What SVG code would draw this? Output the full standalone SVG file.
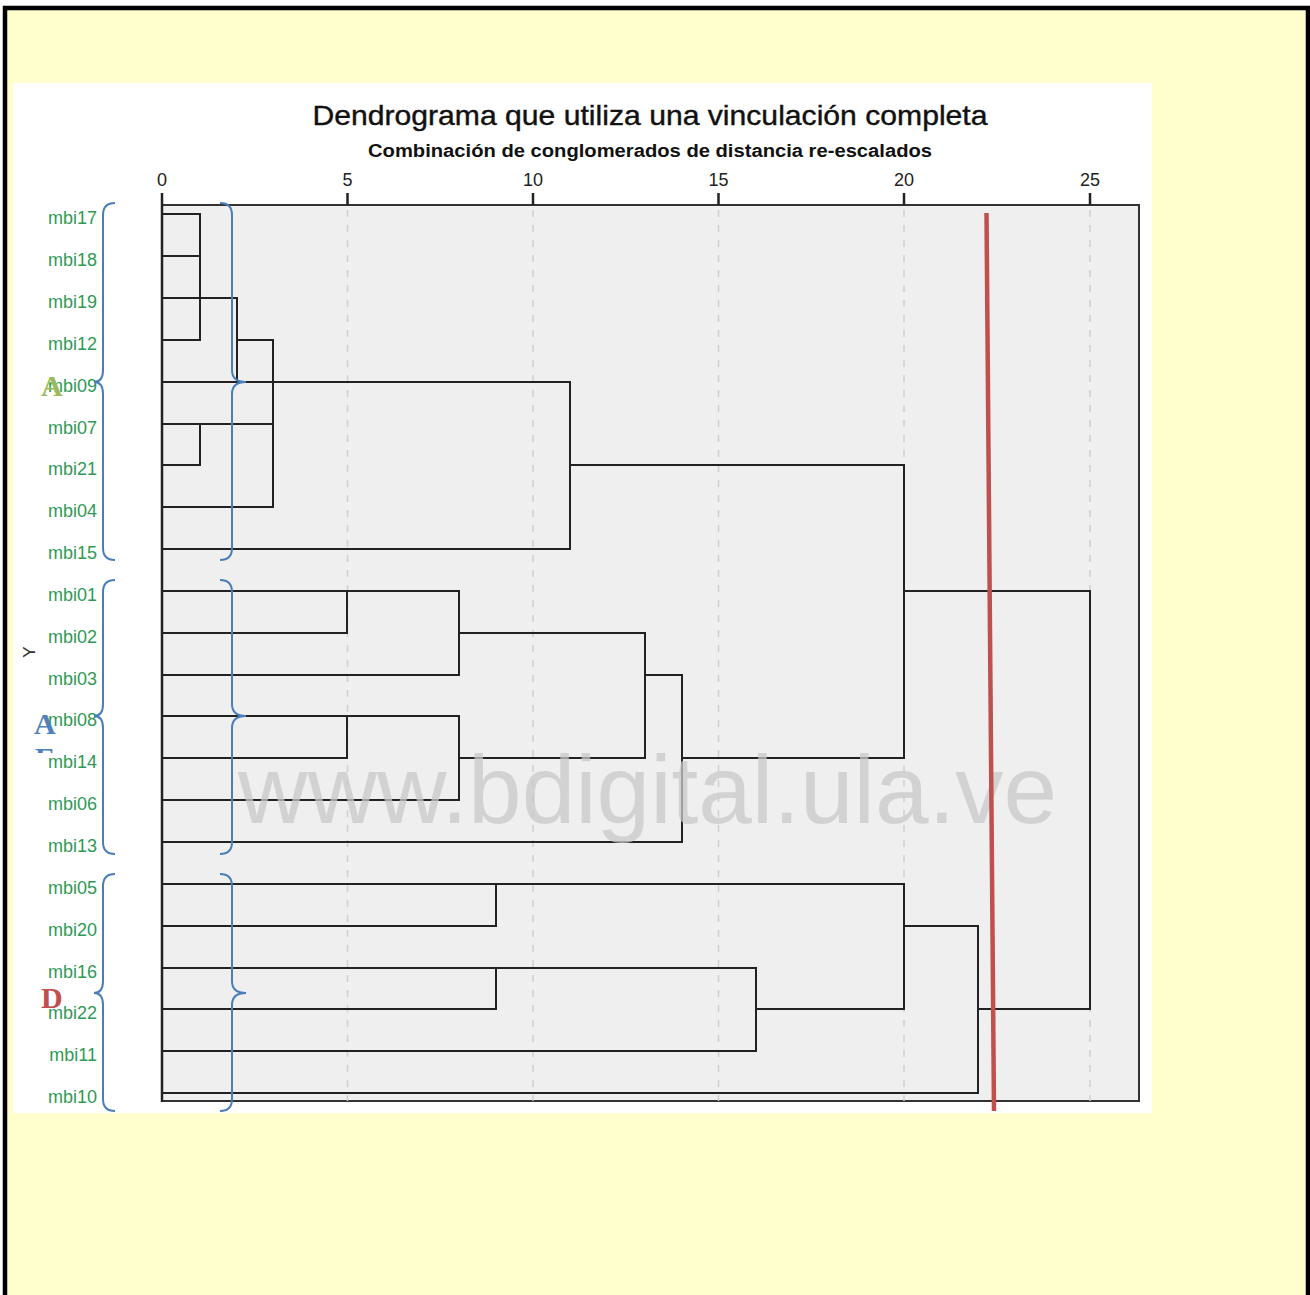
<svg xmlns="http://www.w3.org/2000/svg" width="1310" height="1295" viewBox="0 0 1310 1295">
<defs>
<style>
.lbl{font-family:"Liberation Sans",Arial,sans-serif;font-size:18px;fill:#2E9A55;text-anchor:end}
.tick{font-family:"Liberation Sans",Arial,sans-serif;font-size:18px;fill:#222;text-anchor:middle}
.ln{stroke:#222;stroke-width:2;fill:none;stroke-linecap:square}
.grid{stroke:#cfcfcf;stroke-width:1.5;stroke-dasharray:7,8;fill:none}
.brace{stroke:#4A7EBB;stroke-width:2;fill:none}
.big{font-family:"Liberation Serif","Times New Roman",serif;font-weight:bold;font-size:30px}
</style>
<clipPath id="eclip"><rect x="30" y="745" width="40" height="8"/></clipPath>
</defs>
<rect x="0" y="0" width="1310" height="1295" fill="#FFFFFF"/>
<rect x="5" y="8" width="1303" height="1300" fill="#FFFECC" stroke="#000" stroke-width="4.5"/>
<rect x="13" y="83" width="1139" height="1030" fill="#FFFFFF"/>
<g id="plot">
<rect x="162" y="205" width="977" height="896" fill="#EFEFEF" stroke="#333" stroke-width="2"/>
<line class="grid" x1="347.5" y1="210" x2="347.5" y2="1101"/>
<line class="grid" x1="533" y1="210" x2="533" y2="1101"/>
<line class="grid" x1="718.5" y1="210" x2="718.5" y2="1101"/>
<line class="grid" x1="904" y1="210" x2="904" y2="1101"/>
<line class="grid" x1="1090" y1="210" x2="1090" y2="1101"/>
<g stroke="#222" stroke-width="2.5">
<line x1="162" y1="193" x2="162" y2="1102"/>
<line x1="347.5" y1="193" x2="347.5" y2="205"/>
<line x1="533" y1="193" x2="533" y2="205"/>
<line x1="718.5" y1="193" x2="718.5" y2="205"/>
<line x1="904" y1="193" x2="904" y2="205"/>
<line x1="1090" y1="193" x2="1090" y2="205"/>
</g>
<text class="tick" x="162" y="186">0</text>
<text class="tick" x="347.5" y="186">5</text>
<text class="tick" x="533" y="186">10</text>
<text class="tick" x="718.5" y="186">15</text>
<text class="tick" x="904" y="186">20</text>
<text class="tick" x="1090" y="186">25</text>
</g>
<g id="title">
<text x="650" y="125" text-anchor="middle" textLength="675" lengthAdjust="spacingAndGlyphs" font-family="Liberation Sans, Arial, sans-serif" font-size="28" fill="#111" stroke="#111" stroke-width="0.4">Dendrograma que utiliza una vinculación completa</text>
<text x="650" y="157" text-anchor="middle" textLength="564" lengthAdjust="spacingAndGlyphs" font-family="Liberation Sans, Arial, sans-serif" font-size="18" font-weight="bold" fill="#111">Combinación de conglomerados de distancia re-escalados</text>
</g>
<g id="connectors">
<path class="ln" d="M162,214H200M162,256H200M162,340H200M200,214V340M162,298H237V382M237,340H273V507M162,424H273M200,424V465M162,465H200M162,507H273M162,382H570M570,382V549M162,549H570M570,465H904V758"/>
<path class="ln" d="M162,591H459M347,591V633M162,633H347M459,591V675M162,675H459M459,633H645V758M645,675H682V842M162,842H682M162,716H459M347,716V758M162,758H347M459,716V800M162,800H459M459,758H645M682,758H904"/>
<path class="ln" d="M162,884H904M496,884V926M162,926H496M904,884V1009M162,968H756M496,968V1009M162,1009H496M756,968V1051M162,1051H756M756,1009H904M904,926H978V1093M162,1093H978M978,1009H1090M904,591H1090V1009"/>
</g>
<g id="leaves">
<g id="n-mbi17"><text class="lbl" x="97" y="224">mbi17</text></g>
<g id="n-mbi18"><text class="lbl" x="97" y="266">mbi18</text></g>
<g id="n-mbi19"><text class="lbl" x="97" y="308">mbi19</text></g>
<g id="n-mbi12"><text class="lbl" x="97" y="350">mbi12</text></g>
<g id="n-mbi09"><text class="lbl" x="97" y="392">mbi09</text></g>
<g id="n-mbi07"><text class="lbl" x="97" y="434">mbi07</text></g>
<g id="n-mbi21"><text class="lbl" x="97" y="475">mbi21</text></g>
<g id="n-mbi04"><text class="lbl" x="97" y="517">mbi04</text></g>
<g id="n-mbi15"><text class="lbl" x="97" y="559">mbi15</text></g>
<g id="n-mbi01"><text class="lbl" x="97" y="601">mbi01</text></g>
<g id="n-mbi02"><text class="lbl" x="97" y="643">mbi02</text></g>
<g id="n-mbi03"><text class="lbl" x="97" y="685">mbi03</text></g>
<g id="n-mbi08"><text class="lbl" x="97" y="726">mbi08</text></g>
<g id="n-mbi14"><text class="lbl" x="97" y="768">mbi14</text></g>
<g id="n-mbi06"><text class="lbl" x="97" y="810">mbi06</text></g>
<g id="n-mbi13"><text class="lbl" x="97" y="852">mbi13</text></g>
<g id="n-mbi05"><text class="lbl" x="97" y="894">mbi05</text></g>
<g id="n-mbi20"><text class="lbl" x="97" y="936">mbi20</text></g>
<g id="n-mbi16"><text class="lbl" x="97" y="978">mbi16</text></g>
<g id="n-mbi22"><text class="lbl" x="97" y="1019">mbi22</text></g>
<g id="n-mbi11"><text class="lbl" x="97" y="1061">mbi11</text></g>
<g id="n-mbi10"><text class="lbl" x="97" y="1103">mbi10</text></g>
</g>
<g id="yaxis"><text x="31" y="652" transform="rotate(-90 31 652)" text-anchor="middle" dominant-baseline="middle" font-family="Liberation Sans, Arial, sans-serif" font-size="17" fill="#333">Y</text></g>
<g id="watermark"><text x="238" y="823" textLength="819" lengthAdjust="spacingAndGlyphs" font-family="Liberation Sans, Arial, sans-serif" font-size="96" fill="#c8c8c8" fill-opacity="0.75">www.bdigital.ula.ve</text></g>
<g id="braces">
<path class="brace" d="M115,203Q103,203 103,215L103,370Q103,382 94,382Q103,382 103,394L103,548Q103,560 115,560"/>
<path class="brace" d="M220,203Q232,203 232,215L232,370Q232,382 246,382Q232,382 232,394L232,548Q232,560 220,560"/>
<path class="brace" d="M115,580Q103,580 103,592L103,704Q103,716 94,716Q103,716 103,728L103,842Q103,854 115,854"/>
<path class="brace" d="M220,580Q232,580 232,592L232,704Q232,716 246,716Q232,716 232,728L232,842Q232,854 220,854"/>
<path class="brace" d="M115,874Q103,874 103,886L103,981Q103,993 94,993Q103,993 103,1005L103,1099Q103,1111 115,1111"/>
<path class="brace" d="M220,874Q232,874 232,886L232,981Q232,993 246,993Q232,993 232,1005L232,1099Q232,1111 220,1111"/>
</g>
<g id="groups">
<text class="big" x="41" y="396" fill="#9BBB59">A</text>
<text class="big" x="34" y="734" fill="#4F81BD">A</text>
<text class="big" x="35" y="768" fill="#4F81BD" clip-path="url(#eclip)">E</text>
<text class="big" x="41" y="1008" fill="#C0504D">D</text>
</g>
<g id="cutline"><line x1="986.5" y1="213" x2="994" y2="1111" stroke="#C0504D" stroke-width="4.5"/></g>
</svg>
